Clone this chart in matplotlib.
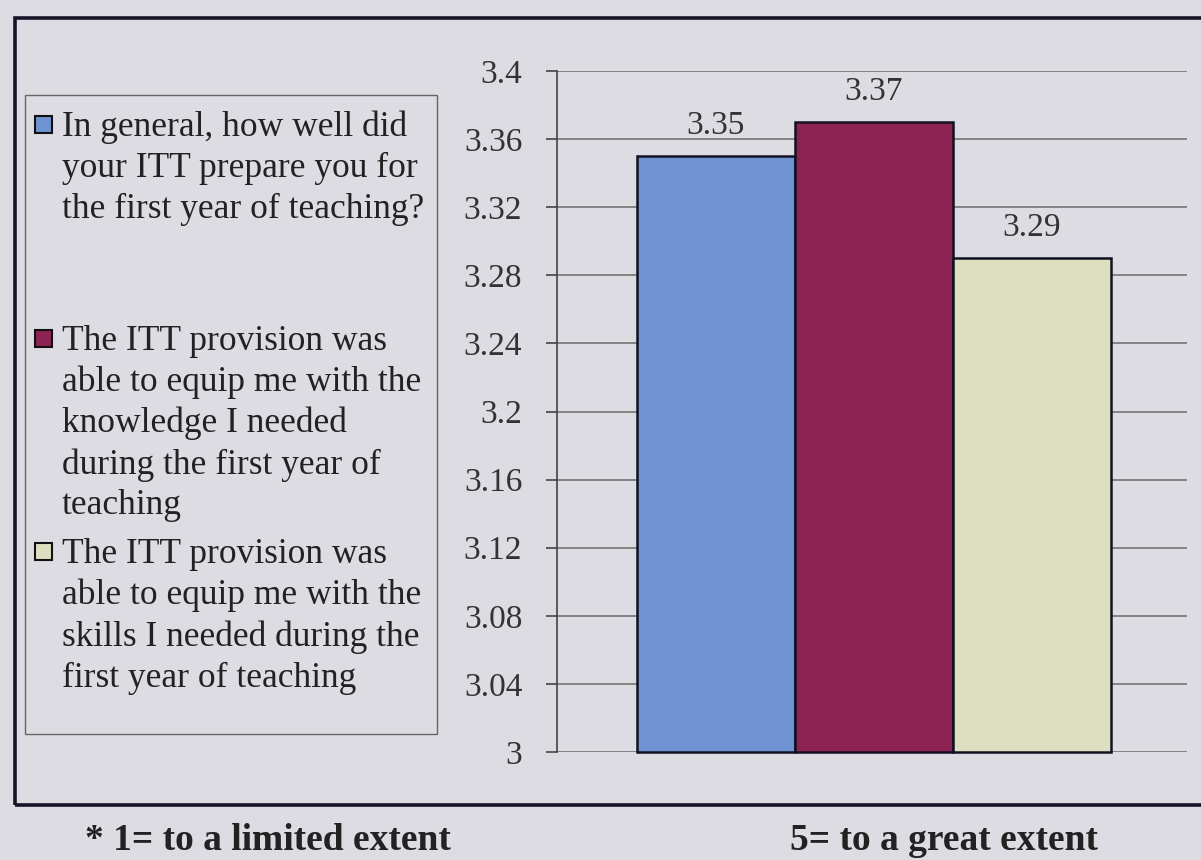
import matplotlib
matplotlib.use("Agg")
import matplotlib.pyplot as plt
import numpy as np
from matplotlib.patches import Rectangle

# data
series_labels = [
    "In general, how well did\nyour ITT prepare you for\nthe first year of teaching?",
    "The ITT provision was\nable to equip me with the\nknowledge I needed\nduring the first year of\nteaching",
    "The ITT provision was\nable to equip me with the\nskills I needed during the\nfirst year of teaching",
]
values = [3.35, 3.37, 3.29]
bar_colors = ["#6f92d2", "#8c2352", "#dedec0"]
y_ticks = [3.0, 3.04, 3.08, 3.12, 3.16, 3.2, 3.24, 3.28, 3.32, 3.36, 3.4]
note_left = "* 1= to a limited extent"
note_right = "5= to a great extent"

W, H = 1201, 860
bg = "#dcdce2"
y_min, y_max = 3.0, 3.4
plt.rcParams['font.family'] = ['Liberation Serif', 'DejaVu Serif']

fig = plt.figure(figsize=(W / 100, H / 100), dpi=100, facecolor=bg)


def fx(px):
    return px / W


def fy(py):
    return 1 - py / H


ax = fig.add_axes([fx(557), fy(752), (1187 - 557) / W, (752 - 71) / H])
ax.set_facecolor(bg)

x = np.arange(len(values))
heights = np.array(values) - y_min
ax.bar(x, heights, width=1.0, bottom=y_min, color=bar_colors,
       edgecolor="#111122", linewidth=1.8, zorder=3, clip_on=False)
for xi, v in zip(x, values):
    ax.annotate(f"{v:.2f}", (xi, v), xytext=(0, 16), textcoords="offset points",
                ha="center", va="baseline", fontsize=24, color="#333333")

ax.set_ylim(y_min, y_max)
ax.set_xlim(-1.006, 2.981)
ax.set_yticks(y_ticks)
ax.set_yticklabels([f"{t:.2f}".rstrip("0").rstrip(".") for t in y_ticks])
ax.set_xticks([])
ax.tick_params(axis="y", length=8, width=1.2, color="#444444", pad=17,
               labelsize=24, labelcolor="#333333")
ax.yaxis.grid(True, color="#7c7c7c", linewidth=1.3)
ax.set_axisbelow(True)
for side in ["top", "right", "bottom"]:
    ax.spines[side].set_visible(False)
ax.spines["left"].set_color("#444444")
ax.spines["left"].set_linewidth(1.2)

# outer frame, open on the right
fig.add_artist(Rectangle((fx(15), fy(805)), 1.2, (805 - 18) / H,
                         transform=fig.transFigure, fill=False,
                         edgecolor="#15152a", linewidth=2.6, clip_on=False))

# legend box drawn by hand to keep the uneven spacing
fig.add_artist(Rectangle((fx(25), fy(734)), (437 - 25) / W, (734 - 95) / H,
                         transform=fig.transFigure, fill=False,
                         edgecolor="#666666", linewidth=1.0))
for i, (label, color) in enumerate(zip(series_labels, bar_colors)):
    base = 135 + i * 213.5
    fig.add_artist(Rectangle((fx(35), fy(base - 2)), 17 / W, 17 / H,
                             transform=fig.transFigure, facecolor=color,
                             edgecolor="#111111", linewidth=1.5))
    fig.text(fx(62), fy(base - 24), label, fontsize=25.5, color="#222222",
             ha="left", va="top", linespacing=1.31)

fig.text(fx(85), fy(850), note_left, fontsize=27, fontweight="bold",
         color="#222222", ha="left", va="baseline")
fig.text(fx(790), fy(850), note_right, fontsize=27, fontweight="bold",
         color="#222222", ha="left", va="baseline")

fig.savefig("out.png", dpi=100, facecolor=bg)
